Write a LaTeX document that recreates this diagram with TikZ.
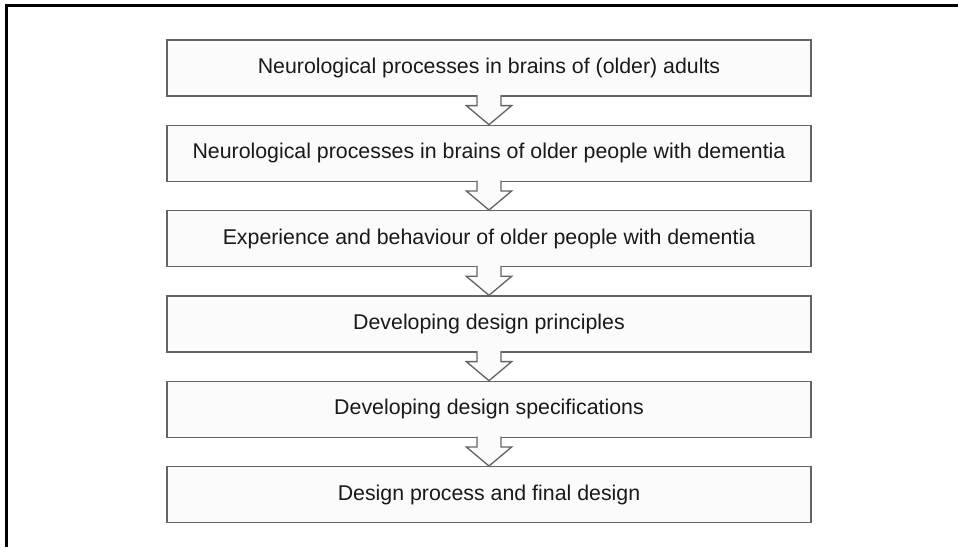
\documentclass[tikz,border=0pt]{standalone}
\usepackage{fontspec}
\setmainfont{Liberation Sans}
\usetikzlibrary{positioning}
\definecolor{edgegray}{RGB}{100,100,100}
\definecolor{boxfill}{RGB}{251,251,251}
\definecolor{textgray}{RGB}{25,25,25}
\tikzstyle{box} = [rectangle, draw=edgegray, fill=boxfill, line width=1pt, minimum width=483pt, minimum height=42pt, text centered, node distance=64pt, text=textgray, font=\fontsize{16}{19}\selectfont]
\tikzstyle{flow} = [draw=edgegray, fill=boxfill, line width=1pt, line join=miter]

\begin{document}
\begin{tikzpicture}
	\useasboundingbox (0,0) rectangle (718.5pt,410.25pt);
	\draw [line width=2.25pt] (4.9pt,0) -- (4.9pt,406.1pt) -- (720pt,406.1pt);
	
	\node [box] (b1) at (366.75pt,359.25pt) {Neurological processes in brains of (older) adults};
	\node [box, below of = b1] (b2) {Neurological processes in brains of older people with dementia};
	\node [box, below of = b2] (b3) {Experience and behaviour of older people with dementia};
	\node [box, below of = b3] (b4) {Developing design principles};
	\node [box, below of = b4] (b5) {Developing design specifications};
	\node [box, below of = b5] (b6) {Design process and final design};
	
	% hollow block arrows cut into the box above
	\foreach \a/\b in {b1/b2, b2/b3, b3/b4, b4/b5, b5/b6} {
		\fill [boxfill] ([xshift=-8.5pt,yshift=1.7pt]\a.south) rectangle ([xshift=8.5pt,yshift=-1pt]\a.south);
		\path [flow] ([xshift=-9pt,yshift=1pt]\a.south) -- ++(0,-7.75pt) -- ++(-8pt,0) -- (\b.north)
			-- ([xshift=17pt,yshift=-6.75pt]\a.south) -- ++(-8pt,0) -- ++(0,7.75pt);
	}
\end{tikzpicture}
\end{document}
